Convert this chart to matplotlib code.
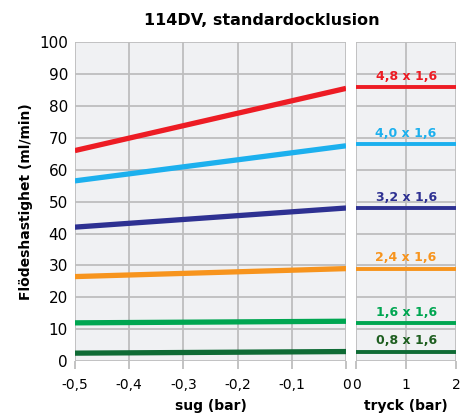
import numpy as np
import matplotlib.pyplot as plt

# Data
suction_x = [-0.5, 0.0]
pressure_x = [0.0, 2.0]
tube_labels = ['4,8 x 1,6', '4,0 x 1,6', '3,2 x 1,6', '2,4 x 1,6', '1,6 x 1,6', '0,8 x 1,6']
suction_start = [66, 56.5, 42, 26.5, 12, 2.5]
suction_end = [85.5, 67.5, 48, 29, 12.5, 3]
pressure_flow = [86, 68, 48, 29, 12, 3]
colors = ['#ED1C24', '#1CB0EE', '#2E3192', '#F7941D', '#00A651', '#0F6B35']
label_colors = ['#ED1C24', '#1CB0EE', '#2E3192', '#F7941D', '#00A651', '#1E5E20']

left_ticks = [-0.5, -0.4, -0.3, -0.2, -0.1, 0.0]
left_ticklabels = ['-0,5', '-0,4', '-0,3', '-0,2', '-0,1', '0']
right_ticks = [0, 1, 2]
y_ticks = list(range(0, 101, 10))

bg = '#F0F1F3'
grid_col = '#BEBEBE'

fig = plt.figure(figsize=(4.62, 4.17), dpi=100)
ax1 = fig.add_axes([0.162, 0.134, 0.587, 0.765])
ax2 = fig.add_axes([0.771, 0.134, 0.216, 0.765])

for ax in (ax1, ax2):
    ax.set_facecolor(bg)
    ax.set_ylim(0, 100)
    ax.set_yticks(y_ticks)
    ax.grid(True, color=grid_col, linewidth=1.3)
    ax.set_axisbelow(True)
    for s in ax.spines.values():
        s.set_visible(False)
    ax.tick_params(axis='x', color=grid_col, width=1.3, length=6, labelsize=10, pad=6)
    ax.tick_params(axis='y', length=0, labelsize=11, pad=5)

for ys, ye, c in zip(suction_start, suction_end, colors):
    ax1.plot(suction_x, [ys, ye], color=c, linewidth=3.8, solid_capstyle='butt')
ax1.set_xlim(-0.5, 0.0)
ax1.set_xticks(left_ticks)
ax1.set_xticklabels(left_ticklabels)
ax1.set_xlabel('sug (bar)', fontweight='bold', fontsize=10, labelpad=5)
ax1.set_ylabel('Flödeshastighet (ml/min)', fontweight='bold', fontsize=10)
ax1.set_title('114DV, standardocklusion', fontweight='bold', fontsize=11.5, x=0.69, pad=12)

for yv, lab, c, lc in zip(pressure_flow, tube_labels, colors, label_colors):
    ax2.plot(pressure_x, [yv, yv], color=c, linewidth=2.8, solid_capstyle='butt')
    ax2.text(1.0, yv + 1.3, lab, color=lc, fontsize=9, fontweight='bold',
             ha='center', va='bottom')
ax2.set_xlim(0, 2)
ax2.set_xticks(right_ticks)
ax2.set_yticklabels([])
ax2.set_xlabel('tryck (bar)', fontweight='bold', fontsize=10, labelpad=5)

fig.savefig('out.png', dpi=100)
